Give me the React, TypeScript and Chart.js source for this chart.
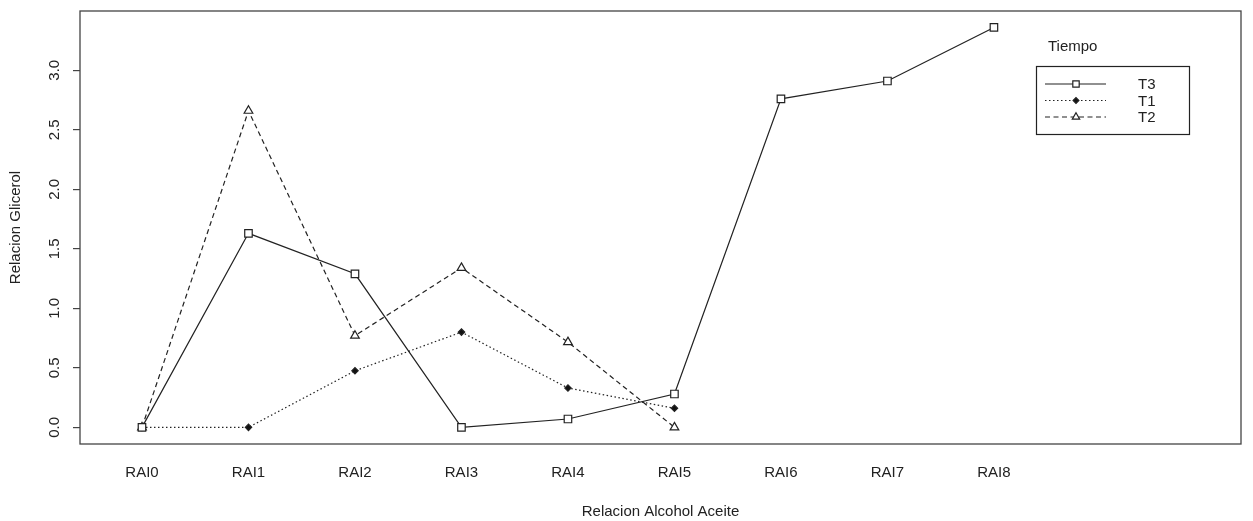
import { useEffect, useRef } from 'react';
import { Chart, registerables } from 'chart.js';

Chart.register(...registerables);

const categories = ['RAI0', 'RAI1', 'RAI2', 'RAI3', 'RAI4', 'RAI5', 'RAI6', 'RAI7', 'RAI8'];
const seriesNames = ['T3', 'T1', 'T2'];
const t3Values: (number | null)[] = [0, 1.63, 1.29, 0.0, 0.07, 0.28, 2.76, 2.91, 3.36];
const t1Values: (number | null)[] = [0, 0, 0.475, 0.8, 0.33, 0.16, null, null, null];
const t2Values: (number | null)[] = [0, 2.66, 0.77, 1.34, 0.716, 0.0, null, null, null];
const yTicks = [0, 0.5, 1.0, 1.5, 2.0, 2.5, 3.0];
const legendTitle = 'Tiempo';
const xTitle = 'Relacion Alcohol Aceite';
const yTitle = 'Relacion Glicerol';

const INK = '#222';
const FONT = "'Liberation Sans', Arial, sans-serif";

const toPoints = (vals: (number | null)[]) => vals.map((v, i) => ({ x: i, y: v }));

const styles = [
  { dash: [] as number[], pointStyle: 'rect', radius: 5.3, fill: '#fff' },
  { dash: [1.5, 2.5], pointStyle: 'rectRot', radius: 3.2, fill: '#111' },
  { dash: [5, 3.5], pointStyle: 'triangle', radius: 5, fill: '#fff' },
];

function drawMarker(ctx: CanvasRenderingContext2D, kind: string, x: number, y: number, r: number, fill: string) {
  ctx.save();
  ctx.setLineDash([]);
  ctx.beginPath();
  if (kind === 'rect') {
    const s = r * Math.SQRT1_2;
    ctx.rect(x - s, y - s, 2 * s, 2 * s);
  } else if (kind === 'rectRot') {
    ctx.moveTo(x - r, y);
    ctx.lineTo(x, y - r);
    ctx.lineTo(x + r, y);
    ctx.lineTo(x, y + r);
    ctx.closePath();
  } else {
    ctx.moveTo(x, y - r);
    ctx.lineTo(x + r * Math.sin(Math.PI * 2 / 3), y + r / 2);
    ctx.lineTo(x - r * Math.sin(Math.PI * 2 / 3), y + r / 2);
    ctx.closePath();
  }
  ctx.fillStyle = fill;
  ctx.fill();
  ctx.strokeStyle = INK;
  ctx.lineWidth = 1.2;
  ctx.stroke();
  ctx.restore();
}

const boxAndLegend = {
  id: 'boxAndLegend',
  afterDraw(chart: any) {
    const { ctx, chartArea } = chart;
    ctx.save();
    ctx.strokeStyle = '#444';
    ctx.lineWidth = 1.3;
    ctx.strokeRect(chartArea.left, chartArea.top, chartArea.right - chartArea.left, chartArea.bottom - chartArea.top);

    // legend
    const boxL = chartArea.right - 205;
    const boxT = chartArea.top + 55;
    const boxW = 153;
    const boxH = 68;
    ctx.font = `15px ${FONT}`;
    ctx.fillStyle = INK;
    ctx.textBaseline = 'middle';
    ctx.textAlign = 'left';
    ctx.fillText(legendTitle, boxL + 12, chartArea.top + 36);
    ctx.lineWidth = 1.2;
    ctx.strokeStyle = INK;
    ctx.strokeRect(boxL + 0.5, boxT + 0.5, boxW, boxH);
    seriesNames.forEach((name, i) => {
      const y = boxT + 18 + i * 16.5;
      const st = styles[i];
      ctx.save();
      ctx.setLineDash(st.dash);
      ctx.beginPath();
      ctx.moveTo(boxL + 9, y);
      ctx.lineTo(boxL + 70, y);
      ctx.strokeStyle = INK;
      ctx.lineWidth = 1.2;
      ctx.stroke();
      ctx.restore();
      drawMarker(ctx, st.pointStyle, boxL + 40, y, st.radius * (i === 1 ? 0.9 : 0.85), st.fill);
      ctx.fillStyle = INK;
      ctx.fillText(name, boxL + 102, y + 1);
    });
    ctx.restore();
  },
};

export default function App() {
  const ref = useRef<HTMLCanvasElement | null>(null);
  useEffect(() => {
    if (!ref.current) return;
    const seriesValues = [t3Values, t1Values, t2Values];
    const chart = new Chart(ref.current, {
      type: 'line',
      data: {
        datasets: seriesNames.map((name, i) => ({
          label: name,
          data: toPoints(seriesValues[i]) as any,
          borderColor: INK,
          borderWidth: 1.2,
          borderDash: styles[i].dash,
          pointStyle: styles[i].pointStyle as any,
          pointRadius: styles[i].radius,
          pointBackgroundColor: styles[i].fill,
          pointBorderColor: INK,
          pointBorderWidth: 1.2,
          tension: 0,
          spanGaps: false,
        })),
      },
      options: {
        responsive: false,
        animation: false,
        layout: { padding: { top: 11, right: 12, left: 0, bottom: 0 } },
        plugins: { legend: { display: false }, tooltip: { enabled: false } },
        scales: {
          x: {
            type: 'linear',
            min: -0.582,
            max: 10.32,
            afterBuildTicks: (axis: any) => {
              axis.ticks = categories.map((_, i) => ({ value: i }));
            },
            afterFit: (axis: any) => {
              axis.height = 77;
              axis.paddingLeft = 0;
              axis.paddingRight = 0;
            },
            grid: { display: false, drawTicks: false },
            border: { display: false },
            ticks: {
              autoSkip: false,
              maxRotation: 0,
              minRotation: 0,
              padding: 20,
              color: INK,
              font: { family: FONT, size: 15 },
              callback: (v: any) => categories[v] ?? '',
            },
            title: {
              display: true,
              text: xTitle,
              color: INK,
              font: { family: FONT, size: 15 },
              padding: { top: 0, bottom: 0 },
            },
          },
          y: {
            type: 'linear',
            min: -0.14,
            max: 3.498,
            afterBuildTicks: (axis: any) => {
              axis.ticks = yTicks.map((v) => ({ value: v }));
            },
            afterFit: (axis: any) => {
              axis.width = 80;
              axis.paddingTop = 0;
              axis.paddingBottom = 0;
            },
            grid: { drawOnChartArea: false, drawTicks: true, tickLength: 7, color: '#444', lineWidth: 1.2 },
            border: { display: false },
            ticks: {
              minRotation: 90,
              maxRotation: 90,
              crossAlign: 'center',
              padding: 8,
              color: INK,
              font: { family: FONT, size: 15 },
              callback: (v: any) => Number(v).toFixed(1),
            },
            title: {
              display: true,
              text: yTitle,
              color: INK,
              font: { family: FONT, size: 15 },
              padding: { top: 7, bottom: 0 },
            },
          },
        },
      },
      plugins: [boxAndLegend],
    });
    return () => chart.destroy();
  }, []);
  return (
    <canvas
      ref={ref}
      width={1253}
      height={521}
      style={{ position: 'absolute', left: 0, top: 0, display: 'block', background: '#fff' }}
    />
  );
}
